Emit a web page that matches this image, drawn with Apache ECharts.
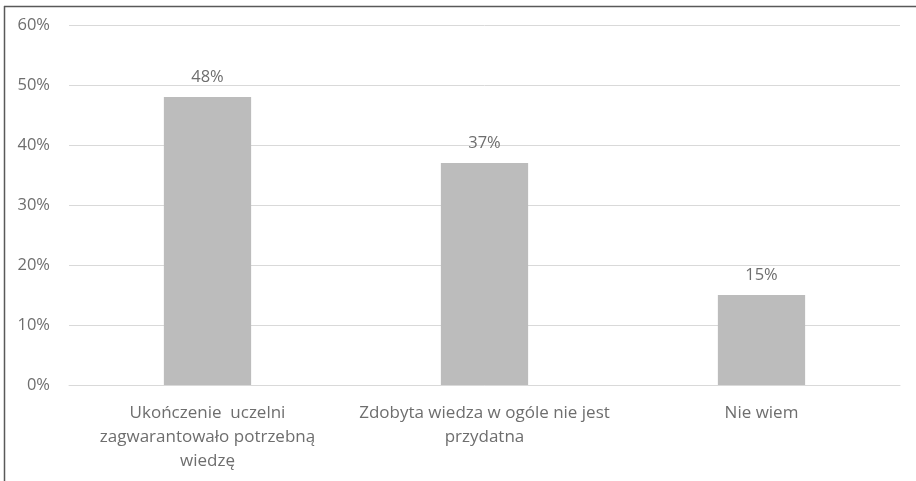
<!DOCTYPE html>
<html><head><meta charset="utf-8">
<script src="https://cdn.jsdelivr.net/npm/echarts@6/dist/echarts.min.js"></script>
<style>html,body{margin:0;padding:0;background:#fff}#c{width:916px;height:481px}</style>
</head><body><div id="c"></div>
<script>
const categories = ["Ukończenie  uczelni\nzagwarantowało potrzebną\nwiedzę", "Zdobyta wiedza w ogóle nie jest\nprzydatna", "Nie wiem"];
const values = [48, 37, 15];
const yTicks = [0, 10, 20, 30, 40, 50, 60];

const chart = echarts.init(document.getElementById('c'), null, {renderer: 'canvas'});
const font = '"Open Sans", "Noto Sans", sans-serif';
const txt = '#6e6e6e';
chart.setOption({
  animation: false,
  grid: {left: 69, right: 16, top: 25, bottom: 96, containLabel: false},
  xAxis: {
    type: 'category', data: categories,
    axisLine: {show: true, lineStyle: {color: '#d9d9d9', width: 1}},
    axisTick: {show: false},
    axisLabel: {color: txt, fontSize: 17, fontFamily: font, lineHeight: 24, margin: 16, interval: 0}
  },
  yAxis: {
    type: 'value', min: yTicks[0], max: yTicks[yTicks.length - 1], interval: 10,
    axisLine: {show: false}, axisTick: {show: false},
    splitLine: {lineStyle: {color: '#d9d9d9', width: 1}},
    axisLabel: {color: txt, fontSize: 16.5, fontFamily: font, margin: 19, formatter: v => v + '%'}
  },
  series: [{
    type: 'bar', data: values, barWidth: '31.5%',
    itemStyle: {color: '#bcbcbc'},
    label: {show: true, position: 'top', distance: 11, color: txt, fontSize: 16.5, fontFamily: font, formatter: p => p.value + '%'}
  }],
  graphic: [
    {type: 'line', shape: {x1: 4, y1: 6.5, x2: 916, y2: 6.5}, style: {stroke: '#595959', lineWidth: 1.5}},
    {type: 'line', shape: {x1: 4.5, y1: 6, x2: 4.5, y2: 481}, style: {stroke: '#595959', lineWidth: 1.5}}
  ]
});
</script></body></html>
